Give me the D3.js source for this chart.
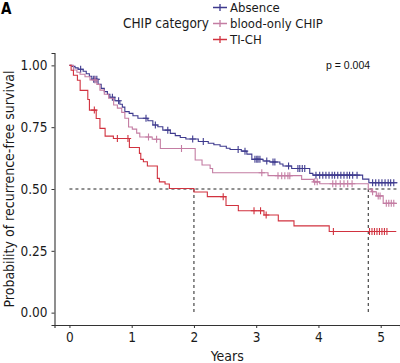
<!DOCTYPE html>
<html>
<head>
<meta charset="utf-8">
<script src="https://cdn.jsdelivr.net/npm/d3@7"></script>
<style>
  body { margin: 0; background: #fff; }
  svg { display: block; }
</style>
</head>
<body>
<svg id="svg1"></svg>
<script>
// step points: [years, survival after the step]
const absenceSteps = [[0,1],[0.04,0.996],[0.09,0.990],[0.14,0.984],[0.22,0.976],[0.27,0.966],[0.32,0.956],[0.36,0.944],
  [0.46,0.923],[0.51,0.907],[0.56,0.894],[0.61,0.883],[0.65,0.871],[0.73,0.857],[0.81,0.843],[0.85,0.831],[0.89,0.813],
  [0.96,0.806],[1.02,0.796],[1.10,0.786],[1.26,0.776],[1.34,0.759],[1.42,0.752],[1.50,0.738],[1.62,0.725],[1.70,0.716],
  [1.78,0.708],[1.87,0.702],[2.07,0.692],[2.23,0.685],[2.32,0.679],[2.42,0.673],[2.52,0.665],[2.58,0.660],[2.76,0.653],
  [2.85,0.641],[2.93,0.620],[3.11,0.613],[3.22,0.609],[3.38,0.601],[3.43,0.593],[3.57,0.583],[3.86,0.563],[3.91,0.556],
  [4.71,0.540],[4.81,0.525]];
const absenceCensor = [0.18,0.39,0.41,0.44,0.69,0.79,1.23,1.38,1.58,1.98,2.15,2.71,2.82,2.98,3.01,3.03,3.06,3.17,3.27,3.30,
  3.52,3.67,3.70,3.74,3.78,3.96,4.02,4.07,4.12,4.17,4.22,4.26,4.31,4.36,4.41,4.46,4.50,4.55,4.62,
  4.87,4.92,4.97,5.02,5.07,5.12,5.16,5.21];
const absenceEnd = 5.27;

const bloodSteps = [[0,1],[0.064,0.981],[0.12,0.972],[0.17,0.964],[0.25,0.954],[0.33,0.941],[0.44,0.923],[0.49,0.900],
  [0.56,0.883],[0.63,0.867],[0.71,0.840],[0.77,0.827],[0.84,0.810],[0.89,0.786],[0.95,0.751],[1.01,0.742],[1.08,0.726],
  [1.13,0.710],[1.33,0.701],[1.46,0.664],[2.02,0.617],[2.13,0.597],[2.26,0.583],[2.30,0.566],[3.19,0.554],[3.73,0.539],
  [3.92,0.529],[4.02,0.521],[4.80,0.499],[4.85,0.489],[4.93,0.472],[5.04,0.442]];
const bloodCensor = [0.41,1.27,1.40,1.80,3.09,3.35,3.41,3.46,3.51,3.54,3.94,3.98,4.23,4.28,4.35,4.41,4.47,4.54,
  4.87,4.96,4.99,5.09,5.13,5.17,5.21];
const bloodEnd = 5.25;

const tichSteps = [[0,1],[0.027,0.980],[0.064,0.960],[0.128,0.940],[0.172,0.899],[0.295,0.862],[0.321,0.819],[0.43,0.785],
  [0.49,0.745],[0.573,0.714],[0.706,0.704],[0.963,0.668],[1.124,0.644],[1.146,0.620],[1.188,0.610],[1.252,0.593],
  [1.412,0.543],[1.445,0.529],[1.536,0.520],[1.605,0.502],[2.0,0.488],[2.215,0.469],[2.515,0.433],[2.713,0.412],
  [3.125,0.395],[3.355,0.371],[3.607,0.351],[4.173,0.328]];
const tichCensor = [0.40,0.77,0.94,2.47,2.965,3.07,3.16,4.24,4.82,4.86,4.90,4.94,4.98,5.02,5.06,5.10];
const tichEnd = 5.25;

const categories = ["Absence", "blood-only CHIP", "TI-CH"];
const colors = ["#3e3a8e", "#c47da3", "#d1323f"];
const medians = [2.0, 4.80];
const xTicks = [0, 1, 2, 3, 4, 5];
const yTicks = [0, 0.25, 0.5, 0.75, 1];
const pLabel = "p = 0.004";

const width = 400;
const height = 363;
const font = "'DejaVu Sans Condensed', 'DejaVu Sans', sans-serif";

const svg = d3.select('#svg1')
    .attr('width', width)
    .attr('height', height);

const x = d3.scaleLinear().domain([-0.24, 5.31]).range([54.5, 400]);
const y = d3.scaleLinear().domain([-0.05, 1.05]).range([325, 53]);

draw();

function survAt(steps, t) {
  const i = d3.bisector(d => d[0]).right(steps, t) - 1;
  return steps[Math.max(i, 0)][1];
}

function draw() {
  // axes
  const xAxis = svg.append("g")
      .attr("transform", "translate(0,325)")
      .call(d3.axisBottom(x).tickValues(xTicks).tickFormat(d3.format("d")).tickSizeOuter(0).tickSize(3).tickPadding(4));
  const yAxis = svg.append("g")
      .attr("transform", "translate(54.5,0)")
      .call(d3.axisLeft(y).tickValues(yTicks).tickFormat(d3.format(".2f")).tickSizeOuter(0).tickSize(3).tickPadding(4));
  [xAxis, yAxis].forEach(function(a) {
    a.select(".domain").attr("stroke", "#333").attr("stroke-width", 1.1);
    a.selectAll(".tick line").attr("stroke", "#333");
    a.selectAll("text").attr("fill", "#1a1a1a").style("font-family", font).style("font-size", "13.5px");
  });

  // median lines
  const dash = svg.append("g")
      .attr("stroke", "#222")
      .attr("stroke-width", 1)
      .attr("stroke-dasharray", "3,3")
      .attr("fill", "none");
  dash.append("line")
      .attr("x1", x(0)).attr("x2", x(absenceEnd))
      .attr("y1", y(0.5)).attr("y2", y(0.5));
  dash.selectAll("line.v")
      .data(medians)
      .enter()
      .append("line")
      .attr("class", "v")
      .attr("x1", d => x(d)).attr("x2", d => x(d))
      .attr("y1", y(0.5)).attr("y2", y(0));

  const series = [
    {steps: absenceSteps, censor: absenceCensor, end: absenceEnd},
    {steps: bloodSteps, censor: bloodCensor, end: bloodEnd},
    {steps: tichSteps, censor: tichCensor, end: tichEnd}
  ];

  const line = d3.line()
      .x(d => x(d[0]))
      .y(d => y(d[1]))
      .curve(d3.curveStepAfter);

  series.forEach(function(s, i) {
    const pts = s.steps.concat([[s.end, s.steps[s.steps.length - 1][1]]]);
    svg.append("path")
        .datum(pts)
        .attr("d", line)
        .attr("fill", "none")
        .attr("stroke", colors[i])
        .attr("stroke-width", 1.1);
    svg.append("g")
        .selectAll("path")
        .data(s.censor)
        .enter()
        .append("path")
        .attr("d", function(t) {
          const cx = x(t), cy = y(survAt(s.steps, t));
          return "M" + (cx - 3.2) + "," + cy + "H" + (cx + 3.2) + "M" + cx + "," + (cy - 3.5) + "V" + (cy + 3.5);
        })
        .attr("stroke", colors[i])
        .attr("stroke-width", 1.1);
  });

  // axis titles
  svg.append("text")
      .attr("transform", "translate(14," + ((53 + 325) / 2) + ")rotate(-90)")
      .attr("text-anchor", "middle")
      .style("font-family", font)
      .style("font-size", "14px")
      .attr("fill", "#1a1a1a")
      .text("Probability of recurrence-free survival");
  svg.append("text")
      .attr("x", (54.5 + 400) / 2)
      .attr("y", 361)
      .attr("text-anchor", "middle")
      .style("font-family", font)
      .style("font-size", "14px")
      .attr("fill", "#1a1a1a")
      .text("Years");

  svg.append("text")
      .attr("x", 326)
      .attr("y", 69)
      .style("font-family", "'Liberation Sans', Arial, sans-serif")
      .style("font-size", "10.5px")
      .attr("fill", "#111")
      .text(pLabel);

  svg.append("text")
      .attr("x", 1)
      .attr("y", 14)
      .style("font-family", font)
      .style("font-size", "15px")
      .style("font-weight", "bold")
      .text("A");

  // legend
  const legend = svg.append("g");
  legend.append("text")
      .attr("x", 209)
      .attr("y", 28)
      .attr("text-anchor", "end")
      .style("font-family", font)
      .style("font-size", "13.5px")
      .attr("fill", "#1a1a1a")
      .text("CHIP category");
  const rows = legend.selectAll("g.row")
      .data(categories)
      .enter()
      .append("g")
      .attr("class", "row")
      .attr("transform", (d, i) => "translate(220," + (7.5 + i * 16) + ")");
  rows.append("path")
      .attr("d", "M-7,0H7M0,-3.5V3.5")
      .attr("stroke", (d, i) => colors[i])
      .attr("stroke-width", 1.3);
  rows.append("text")
      .attr("x", 10)
      .attr("y", 4.5)
      .style("font-family", font)
      .style("font-size", "13px")
      .attr("fill", "#1a1a1a")
      .text(d => d);
}
</script>
</body>
</html>
